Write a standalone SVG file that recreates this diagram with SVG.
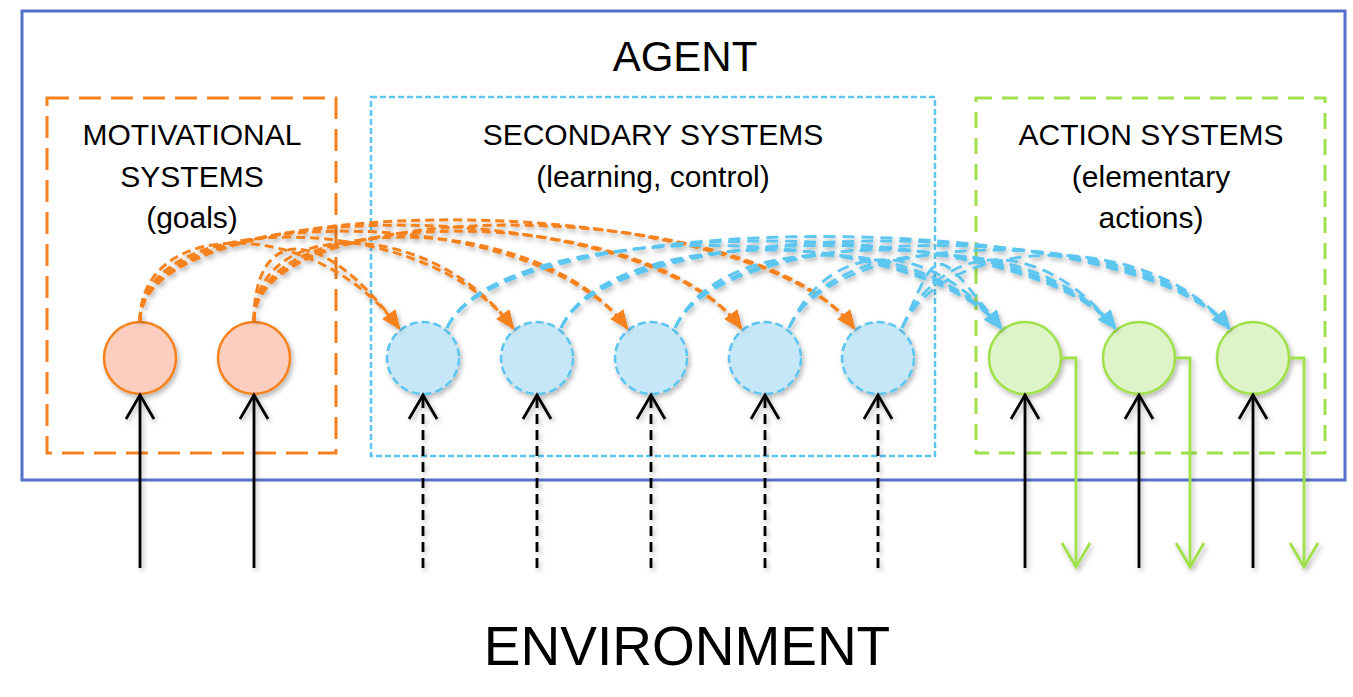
<svg xmlns="http://www.w3.org/2000/svg" width="1353" height="697" viewBox="0 0 1353 697">
<style>
text{font-family:"Liberation Sans",Arial,sans-serif;fill:#000;text-anchor:middle}
.t{font-size:30px}
.oc{fill:#FBCEC0;stroke:#F5821F;stroke-width:2.5}
.bc{fill:#C6E7F8;stroke:#5BC6F0;stroke-width:2.5;stroke-dasharray:8 4}
.gc{fill:#DDF4C8;stroke:#A0E04A;stroke-width:2.5}
.oa{fill:none;stroke:#F5821F;stroke-width:3;stroke-dasharray:9 5;marker-end:url(#mo)}
.ba{fill:none;stroke:#5BC6F0;stroke-width:2.8;stroke-dasharray:12 7;marker-end:url(#mb)}
.in{fill:none;stroke:#000;stroke-width:2.8;marker-end:url(#mk)}
.ind{fill:none;stroke:#000;stroke-width:2.8;stroke-dasharray:10 6;marker-end:url(#mk)}
.out{fill:none;stroke:#A0E04A;stroke-width:2.8;marker-end:url(#mg)}
</style>
<defs>
<filter id="sh" filterUnits="userSpaceOnUse" x="0" y="0" width="1353" height="697">
<feDropShadow dx="2" dy="3" stdDeviation="2.5" flood-color="#000" flood-opacity="0.28"/>
</filter>
<marker id="mo" markerUnits="userSpaceOnUse" orient="auto" markerWidth="22" markerHeight="18" refX="17" refY="8" overflow="visible"><path d="M0,0 L19,8 L0,16 z" fill="#F5821F"/></marker>
<marker id="mb" markerUnits="userSpaceOnUse" orient="auto" markerWidth="22" markerHeight="18" refX="17" refY="8" overflow="visible"><path d="M0,0 L19,8 L0,16 z" fill="#5BC6F0"/></marker>
<marker id="mk" markerUnits="userSpaceOnUse" orient="auto" markerWidth="30" markerHeight="30" refX="24" refY="14" overflow="visible"><path d="M0,0 L24,14 L0,28" fill="none" stroke="#000" stroke-width="2.8"/></marker>
<marker id="mg" markerUnits="userSpaceOnUse" orient="auto" markerWidth="30" markerHeight="30" refX="24" refY="14" overflow="visible"><path d="M0,0 L24,14 L0,28" fill="none" stroke="#A0E04A" stroke-width="2.8"/></marker>
</defs>

<g id="agent">
<rect x="22" y="11" width="1323" height="469" fill="none" stroke="#5470C8" stroke-width="3"/>
<text x="685" y="71" style="font-size:42px">AGENT</text>
</g>

<g id="motivational">
<rect x="47" y="98" width="289" height="355" fill="none" stroke="#F5821F" stroke-width="3" stroke-dasharray="22 10"/>
<text class="t" x="192" y="145">MOTIVATIONAL</text>
<text class="t" x="192" y="187">SYSTEMS</text>
<text class="t" x="192" y="228">(goals)</text>
</g>

<g id="secondary">
<rect x="371" y="97" width="564" height="359" fill="none" stroke="#5BC6F0" stroke-width="2.5" stroke-dasharray="6 3"/>
<text class="t" x="653" y="145">SECONDARY SYSTEMS</text>
<text class="t" x="653" y="187">(learning, control)</text>
</g>

<g id="action">
<rect x="976" y="98" width="349" height="355" fill="none" stroke="#A0E04A" stroke-width="3" stroke-dasharray="16 10"/>
<text class="t" x="1151" y="145">ACTION SYSTEMS</text>
<text class="t" x="1151" y="187">(elementary</text>
<text class="t" x="1151" y="228">actions)</text>
</g>

<g id="environment">
<text x="687" y="665" style="font-size:55px">ENVIRONMENT</text>
</g>

<g id="nodes" filter="url(#sh)">
<g id="goal1"><circle class="oc" cx="140" cy="358" r="36"/></g>
<g id="goal2"><circle class="oc" cx="254" cy="358" r="36"/></g>
<g id="sec1"><circle class="bc" cx="423" cy="358" r="36"/></g>
<g id="sec2"><circle class="bc" cx="537" cy="358" r="36"/></g>
<g id="sec3"><circle class="bc" cx="651" cy="358" r="36"/></g>
<g id="sec4"><circle class="bc" cx="765" cy="358" r="36"/></g>
<g id="sec5"><circle class="bc" cx="878" cy="358" r="36"/></g>
<g id="act1"><circle class="gc" cx="1025" cy="358" r="36"/></g>
<g id="act2"><circle class="gc" cx="1139" cy="358" r="36"/></g>
<g id="act3"><circle class="gc" cx="1253" cy="358" r="36"/></g>
</g>

<g id="connectors" filter="url(#sh)">
<path class="oa" d="M140,321 C140,216 316,216 399,328"/>
<path class="oa" d="M140,321 C140,208 424,208 513,328"/>
<path class="oa" d="M140,321 C140,200 532,200 627,328"/>
<path class="oa" d="M140,321 C140,192 640,192 741,328"/>
<path class="oa" d="M140,321 C140,185 746,185 854,328"/>
<path class="oa" d="M254,321 C254,224 322,224 399,328"/>
<path class="oa" d="M254,321 C254,216 430,216 513,328"/>
<path class="oa" d="M254,321 C254,208 538,208 627,328"/>
<path class="oa" d="M254,321 C254,200 646,200 741,328"/>
<path class="oa" d="M254,321 C254,192 753,192 854,328"/>
<path class="ba" d="M447,328 C496,218 913,218 1001,328"/>
<path class="ba" d="M447,328 C499,212 1023,212 1115,328"/>
<path class="ba" d="M447,328 C502,206 1132,206 1229,328"/>
<path class="ba" d="M561,328 C608,224 918,224 1001,328"/>
<path class="ba" d="M561,328 C610,218 1027,218 1115,328"/>
<path class="ba" d="M561,328 C613,212 1137,212 1229,328"/>
<path class="ba" d="M675,328 C719,231 923,231 1001,328"/>
<path class="ba" d="M675,328 C722,224 1032,224 1115,328"/>
<path class="ba" d="M675,328 C724,218 1141,218 1229,328"/>
<path class="ba" d="M789,328 C830,237 928,237 1001,328"/>
<path class="ba" d="M789,328 C833,231 1037,231 1115,328"/>
<path class="ba" d="M789,328 C836,224 1146,224 1229,328"/>
<path class="ba" d="M902,328 C940,243 933,243 1001,328"/>
<path class="ba" d="M902,328 C943,237 1042,237 1115,328"/>
<path class="ba" d="M902,328 C946,231 1151,231 1229,328"/>
<path class="in" d="M140,568 V395"/>
<path class="in" d="M254,568 V395"/>
<path class="ind" d="M423,568 V395"/>
<path class="ind" d="M537,568 V395"/>
<path class="ind" d="M651,568 V395"/>
<path class="ind" d="M765,568 V395"/>
<path class="ind" d="M878,568 V395"/>
<path class="in" d="M1025,568 V395"/>
<path class="in" d="M1139,568 V395"/>
<path class="in" d="M1253,568 V395"/>
<path class="out" d="M1061,358 H1076 V567"/>
<path class="out" d="M1175,358 H1190 V567"/>
<path class="out" d="M1289,358 H1304 V567"/>
</g>
</svg>
